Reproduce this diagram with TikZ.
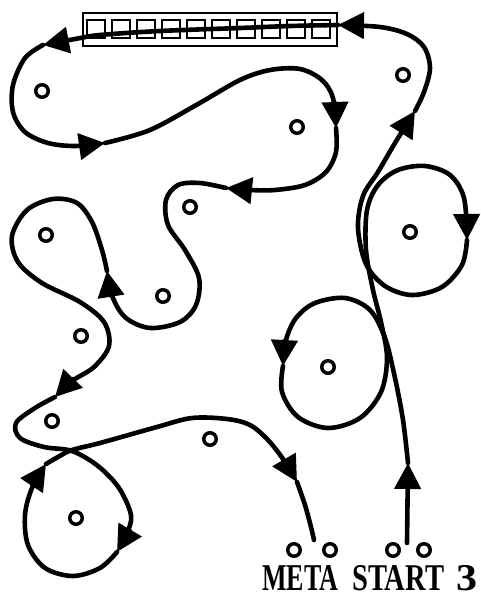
\documentclass[tikz,border=0pt]{standalone}
\usepackage{fontspec}
\usepackage{graphicx}
\setmainfont{Liberation Serif}
\usetikzlibrary{arrows.meta}
\tikzset{
  trail/.style={line width=4.6pt, line cap=round, line join=round},
  arr/.style={trail, -{Triangle[length=26pt,width=26pt]}},
  spot/.style={circle, draw, line width=3.5pt, minimum size=12.5pt, inner sep=0pt},
  cell/.style={draw, line width=1.2pt, minimum width=18pt, minimum height=18pt, inner sep=0pt},
  frame/.style={draw, line width=1.2pt, inner sep=0pt},
  lab/.style={inner sep=0pt, anchor=base west, font=\bfseries},
}
\begin{document}
\begin{tikzpicture}[x=1pt,y=-1pt]
\useasboundingbox (0,0) rectangle (481,598);

% register box
\node[frame, minimum width=254pt, minimum height=33pt] (box) at (210,29.5) {};
\foreach \i in {0,...,9}{
  \node[cell] (cell\i) at (96+25*\i,29) {};
}

% spots
\node[spot] (c1) at (42,91) {};
\node[spot] (c2) at (403,75) {};
\node[spot] (c3) at (297,127) {};
\node[spot] (c4) at (190,207) {};
\node[spot] (c5) at (46,235) {};
\node[spot] (c6) at (163,296) {};
\node[spot] (c7) at (81,336) {};
\node[spot] (c8) at (410,232) {};
\node[spot] (c9) at (328,367) {};
\node[spot] (c10) at (52,421) {};
\node[spot] (c11) at (210,439) {};
\node[spot] (c12) at (76,518) {};
\node[spot] (m1) at (294,550) {};
\node[spot] (m2) at (330,550) {};
\node[spot] (s1) at (393,550) {};
\node[spot] (s2) at (424,550) {};

% labels
\node[lab] (meta) at (262,590) {\resizebox{76pt}{25pt}{META}};
\node[lab] (start) at (352,590) {\resizebox{92pt}{25pt}{START}};
\node[lab] (three) at (456,590) {\resizebox{21pt}{25pt}{3}};

% waypoints
\coordinate (st) at (407,543);
\coordinate (A1) at (408,463);
\coordinate (A2) at (283,366);
\coordinate (A3) at (467,240);
\coordinate (A4) at (415,111);
\coordinate (A5) at (338,25);
\coordinate (A6) at (43,45);
\coordinate (A7) at (105,143);
\coordinate (A8) at (336,128);
\coordinate (A9) at (226,188);
\coordinate (A10) at (107,271);
\coordinate (A11) at (55,397);
\coordinate (A12) at (117,552);
\coordinate (A13) at (46,464);
\coordinate (A14) at (297,482);
\coordinate (fin) at (314,540);

% the trail
\draw[arr] (st) -- (A1);
\draw[arr] plot[smooth, tension=0.55] coordinates {(A1) (403,420) (395,378) (385,338) (370,310) (345,298) (315,303) (296,318) (286,340) (A2)};
\draw[arr] plot[smooth, tension=0.55] coordinates {(A2) (282,392) (298,417) (328,428) (360,418) (381,392) (387,358) (381,322) (373,290) (366,250) (367,210) (378,185) (398,170) (425,166) (450,175) (464,198) (A3)};
\draw[arr] plot[smooth, tension=0.55] coordinates {(A3) (462,265) (442,287) (412,295) (385,286) (366,264) (358,228) (363,196) (378,172) (395,143) (A4)};
\draw[arr] plot[smooth, tension=0.55] coordinates {(A4) (424,92) (430,68) (424,47) (407,34) (380,27) (A5)};
\draw[arr] plot[smooth, tension=0.55] coordinates {(A5) (290,26) (240,28) (160,31) (100,35) (75,39) (A6)};
\draw[arr] plot[smooth, tension=0.55] coordinates {(A6) (25,58) (13,85) (13,112) (25,132) (48,143) (75,146) (A7)};
\draw[arr] plot[smooth, tension=0.55] coordinates {(A7) (150,130) (198,104) (240,80) (270,70) (300,69) (322,80) (333,98) (A8)};
\draw[arr] plot[smooth, tension=0.55] coordinates {(A8) (336,152) (326,172) (305,185) (275,190) (250,190) (A9)};
\draw[arr] plot[smooth, tension=0.55] coordinates {(A9) (200,183) (178,185) (166,200) (168,225) (185,250) (199,278) (196,305) (180,322) (150,328) (126,318) (113,298) (A10)};
\draw[arr] plot[smooth, tension=0.55] coordinates {(A10) (102,250) (92,222) (77,203) (53,199) (27,210) (12,236) (18,262) (42,283) (80,302) (104,322) (109,346) (94,367) (72,381) (A11)};
\draw[arr] plot[smooth, tension=0.55] coordinates {(A11) (35,408) (16,423) (20,438) (44,447) (72,451) (98,466) (119,488) (131,515) (127,533) (A12)};
\draw[arr] plot[smooth, tension=0.55] coordinates {(A12) (100,568) (73,576) (45,568) (28,545) (25,515) (32,488) (A13)};
\draw[arr] plot[smooth, tension=0.55] coordinates {(A13) (58,457) (72,450) (100,443) (157,427) (192,418) (227,419) (250,425) (268,440) (283,459) (A14)};
\draw[trail] plot[smooth, tension=0.55] coordinates {(A14) (305,505) (311,527) (fin)};
\end{tikzpicture}
\end{document}
